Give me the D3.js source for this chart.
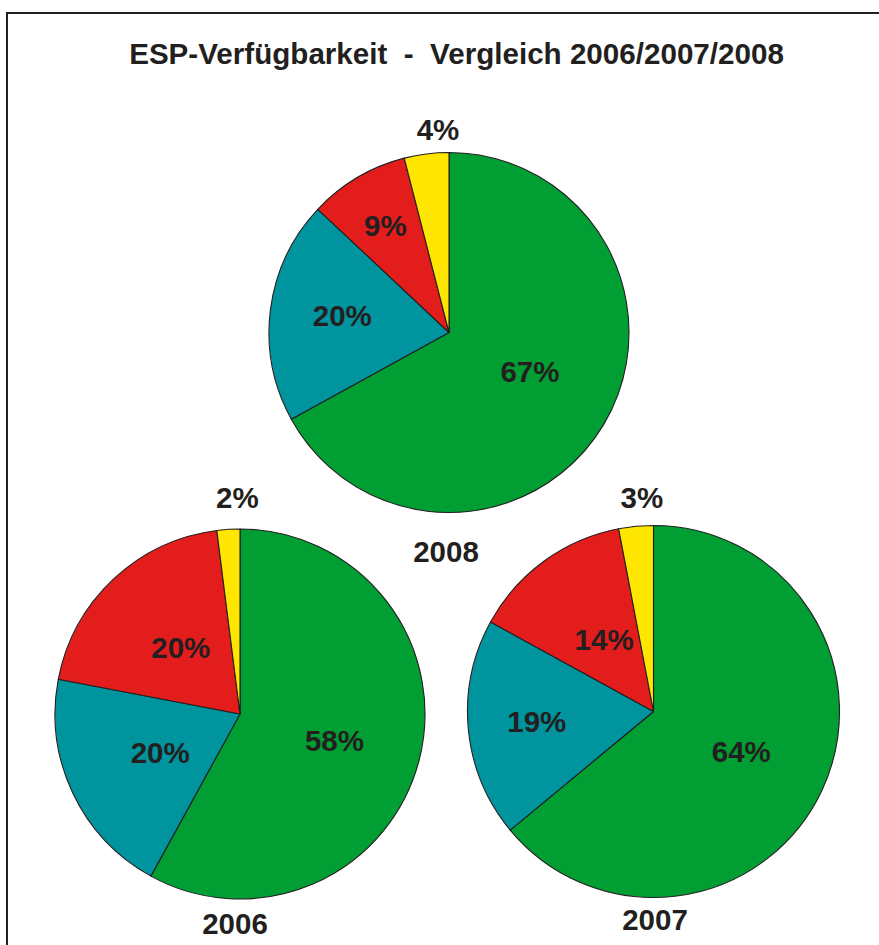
<!DOCTYPE html>
<html>
<head>
<meta charset="utf-8">
<script src="https://cdn.jsdelivr.net/npm/d3@7"></script>
<style>
  html, body { margin: 0; padding: 0; background: #fff; }
  svg text { font-family: "Liberation Sans", Arial, Helvetica, sans-serif; font-weight: bold; fill: #231f20; }
</style>
</head>
<body>
<svg id="chart" width="879" height="945"></svg>
<script>
// data
const title = 'ESP-Verfügbarkeit  -  Vergleich 2006/2007/2008'
const categories = ['verfügbar', 'Kategorie B', 'Kategorie C', 'Kategorie D']
const years = ['2008', '2006', '2007']
const values2008 = [67, 20, 9, 4]
const values2006 = [58, 20, 20, 2]
const values2007 = [64, 19, 14, 3]
const sliceColors = ['#009e33', '#00949e', '#e31d1b', '#ffe600']

// layout of the three pies (center x, center y, radius, year label baseline)
const layout = [
  { year: years[0], values: values2008, cx: 449, cy: 332.5, r: 180, yearX: 446, yearY: 562,
    labelR: [0.50, 0.60, 0.69, 1.127], labelShift: [-4.6, 1.6, -0.2, 4.1] },
  { year: years[1], values: values2006, cx: 240, cy: 714, r: 185, yearX: 235, yearY: 934,
    labelR: [0.53, 0.48, 0.48, 1.168], labelShift: [1.1, -0.8, 1.4, 2.9] },
  { year: years[2], values: values2007, cx: 653.5, cy: 711.5, r: 186, yearX: 655, yearY: 930,
    labelR: [0.52, 0.63, 0.47, 1.15], labelShift: [-0.4, 0.3, 1.6, 2.3] }
]

const svg = d3.select('#chart')

// frame (top and left edge only, right side is cut off)
svg.append('path')
  .attr('d', 'M7,945 V13 H879')
  .attr('fill', 'none')
  .attr('stroke', '#231f20')
  .attr('stroke-width', 2)

svg.append('text')
  .attr('x', 456.5)
  .attr('y', 64)
  .attr('text-anchor', 'middle')
  .style('font-size', '29.6px')
  .style('white-space', 'pre')
  .text(title)

const color = d3.scaleOrdinal().domain(categories).range(sliceColors)
const pie = d3.pie().sort(null).value((d) => d.value)

layout.forEach((p) => {
  const rows = categories.map((c, i) => ({ cat: c, value: p.values[i] }))
  const arcs = pie(rows)
  const arc = d3.arc().innerRadius(0).outerRadius(p.r)

  const g = svg.append('g')
    .attr('transform', `translate(${p.cx},${p.cy})`)

  g.selectAll('path.slice')
    .data(arcs)
    .enter()
    .append('path')
    .attr('class', 'slice')
    .attr('d', arc)
    .attr('fill', (d) => color(d.data.cat))
    .attr('stroke', '#231f20')
    .attr('stroke-width', 1.1)
    .attr('stroke-linejoin', 'round')

  g.selectAll('text.pct')
    .data(arcs)
    .enter()
    .append('text')
    .attr('class', 'pct')
    .attr('text-anchor', 'middle')
    .attr('dy', '0.35em')
    .style('font-size', '29.5px')
    .attr('transform', (d, i) => {
      const a = (d.startAngle + d.endAngle) / 2 + p.labelShift[i] * Math.PI / 180
      const rr = p.r * p.labelR[i]
      return `translate(${Math.sin(a) * rr},${-Math.cos(a) * rr})`
    })
    .text((d) => d.data.value + '%')

  svg.append('text')
    .attr('x', p.yearX)
    .attr('y', p.yearY)
    .attr('text-anchor', 'middle')
    .style('font-size', '29.5px')
    .text(p.year)
})
</script>
</body>
</html>
